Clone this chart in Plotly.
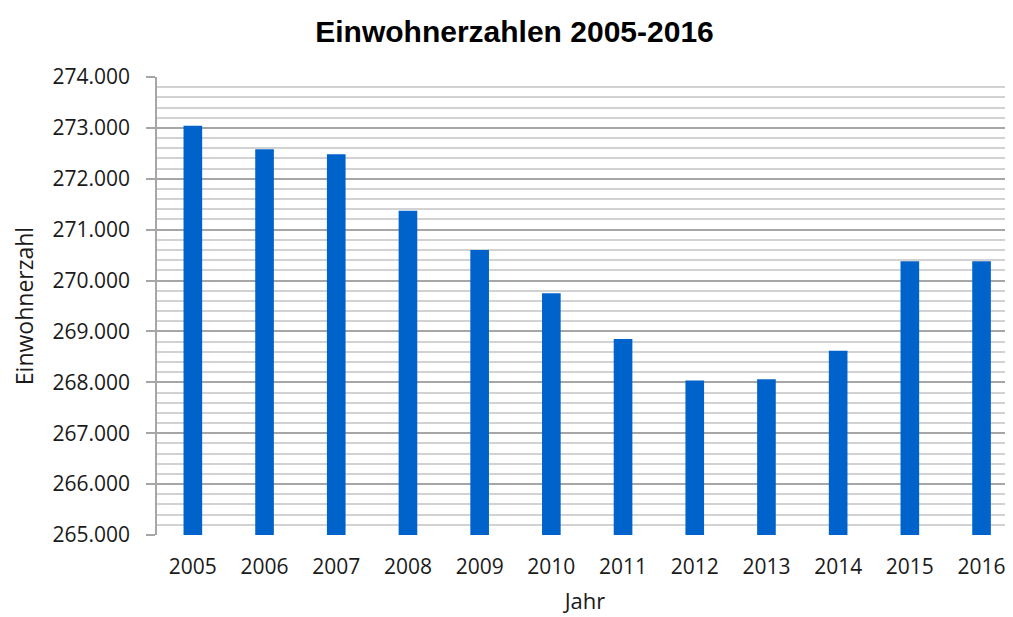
import plotly.graph_objects as go

years = ["2005", "2006", "2007", "2008", "2009", "2010", "2011", "2012", "2013", "2014", "2015", "2016"]
einwohner = [273040, 272580, 272480, 271370, 270600, 269750, 268850, 268035, 268060, 268620, 270380, 270380]

title_text = "Einwohnerzahlen 2005-2016"
x_title = "Jahr"
y_title = "Einwohnerzahl"

# page body has an 8px default margin, so the figure is sized/offset to compensate
W, H = 1005, 609

fig = go.Figure()
fig.add_trace(go.Bar(
    x=years, y=einwohner,
    marker=dict(color="#0063CC", line=dict(width=0)),
    width=0.26,
))

fig.update_layout(
    width=W, height=H,
    margin=dict(l=149, r=0, t=69, b=82),
    paper_bgcolor="white", plot_bgcolor="white",
    separators=",.",
    showlegend=False,
    title=dict(text="<b>" + title_text + "</b>", x=506.5 / W, xref="container", xanchor="center",
               y=1 - 23 / H, yref="container", yanchor="middle",
               font=dict(family="Liberation Sans, Arial", size=30, color="black")),
    font=dict(family="Open Sans", color="#1a1a1a"),
)

fig.update_yaxes(
    range=[265000, 274000],
    automargin=False,
    dtick=1000, tickformat=",d",
    tickfont=dict(family="Open Sans", size=21, color="#1a1a1a"),
    showgrid=True, gridcolor="#a6a6a6", gridwidth=1.5,
    minor=dict(dtick=200, showgrid=True, gridcolor="#d2d2d2", gridwidth=1.5),
    ticks="outside", ticklen=9, tickcolor="#a6a6a6", tickwidth=1.5,
    ticklabelstandoff=12,
    showline=True, linecolor="#a6a6a6", linewidth=1.5,
    zeroline=False,
    title=dict(text=y_title, font=dict(family="Open Sans", size=23, color="#1a1a1a"), standoff=14),
)

fig.update_xaxes(
    type="category",
    automargin=False,
    range=[-0.5, -0.5 + 856 / 71.7],
    tickfont=dict(family="Open Sans", size=21, color="#1a1a1a"),
    showgrid=False, showline=False, zeroline=False,
    ticks="", ticklabelstandoff=17,
    title=dict(text=x_title, font=dict(family="Open Sans", size=22, color="#1a1a1a"), standoff=14),
)

fig.write_html("out.html")
